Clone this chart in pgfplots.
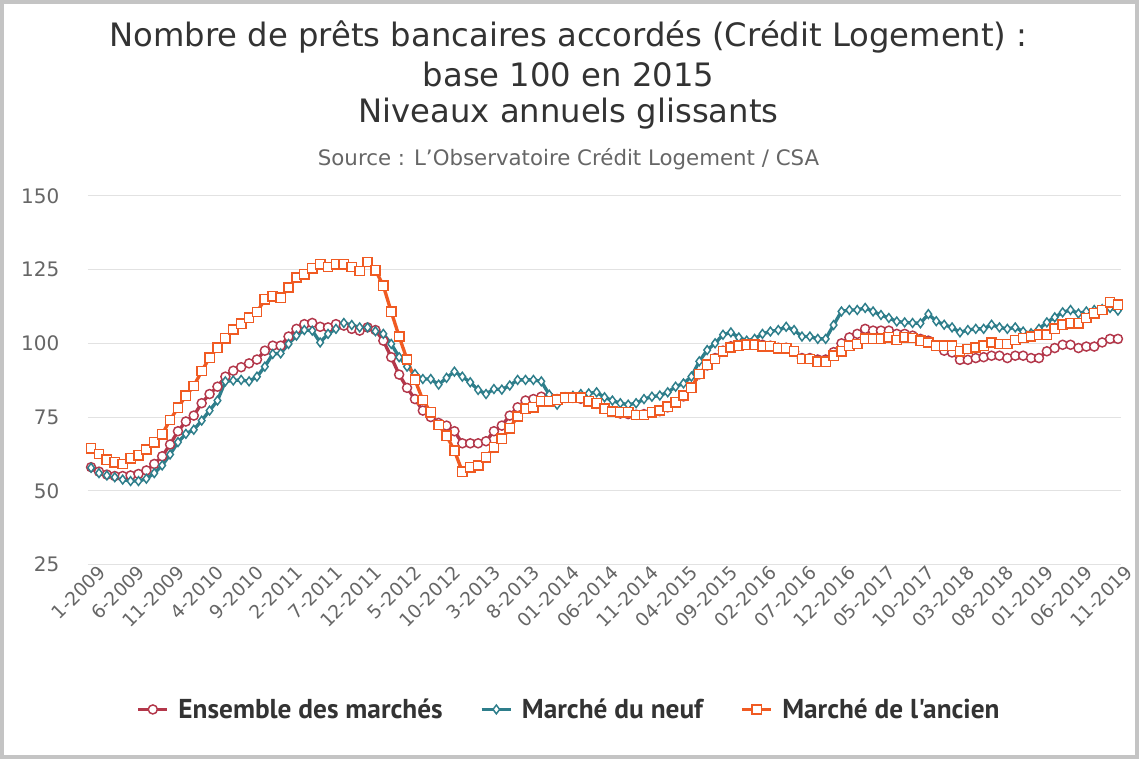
\documentclass[border=0pt]{standalone}
\usepackage{fontspec}
\setmainfont{DejaVu Sans}
\newfontfamily\legfont{PT Sans}
\usepackage{pgfplots}
\pgfplotsset{compat=1.18}
\usepackage{pgfplotstable}

\definecolor{ens}{HTML}{B3374A}
\definecolor{neuf}{HTML}{2E7E8B}
\definecolor{anc}{HTML}{F05A22}
\definecolor{titlec}{HTML}{333333}
\definecolor{subc}{HTML}{666666}
\definecolor{gridc}{HTML}{E2E2E2}
\definecolor{framec}{HTML}{C4C4C4}

% mois 0 = 1-2009 ... 130 = 11-2019
\pgfplotstableread{
m ens neuf anc
0 58 57.8 64.4
1 56.5 56 62.5
2 55.5 55.2 60.5
3 55 54.6 59.7
4 55 53.8 59.1
5 55.2 53.3 61
6 55.7 53.3 62
7 56.9 54.1 64
8 59.1 56 66.5
9 61.7 58.6 69.2
10 65.7 62.3 74
11 70.2 66.5 78.2
12 73.5 69.3 82.2
13 75.5 70.7 85.5
14 79.7 73.8 90.6
15 82.8 77.2 95.1
16 85.3 80.6 98.5
17 88.7 87.1 101.7
18 90.7 87.4 104.7
19 91.9 87.6 106.6
20 93.2 87.1 108.7
21 94.5 88.7 110.6
22 97.5 92.1 114.9
23 99.2 96.4 116
24 99.2 96.6 115.5
25 102.3 99.8 118.9
26 104.9 102.6 122.3
27 106.5 104.5 123.4
28 106.9 104.3 125.4
29 105.6 100.3 126.8
30 105.4 103.2 125.9
31 106.5 104.9 126.8
32 106 106.9 126.8
33 104.9 106.2 125.9
34 104.3 105.4 124.5
35 105.4 105.4 127.6
36 104.5 104.1 124.8
37 100.9 103.2 119.5
38 95.3 99.8 110.7
39 89.4 95.3 102.3
40 84.9 92.1 94.5
41 81.1 89.6 87.6
42 77.2 87.9 80.8
43 75 87.9 76.6
44 73 86 72.3
45 72.1 88.3 68.7
46 70.2 90.4 63.6
47 66.1 88.7 56.5
48 66.1 86.8 58
49 66.1 84.2 58.6
50 66.8 82.8 61.4
51 70.2 84.5 64.8
52 72.1 84.3 67.6
53 75.5 85.7 71.2
54 78.3 87.6 75.2
55 80.6 87.6 77.8
56 81.1 87.6 78.3
57 81.9 87.1 80.4
58 81.7 82.6 80.4
59 81.1 79.2 80.9
60 81.5 81.7 81.5
61 81.5 82.2 81.5
62 81.2 82.8 81.5
63 80.5 83 80.4
64 79.5 83.4 79.7
65 78 81.7 77.8
66 77 80.6 76.9
67 76.2 79.7 76.6
68 76 79.2 76.6
69 75.8 79.7 75.7
70 76 81.1 75.7
71 76.5 81.9 76.6
72 77 82.3 77.2
73 78.3 83.4 78.5
74 80 85.3 80
75 82 86.4 82.3
76 85 88.7 84.9
77 89.5 93.9 89.6
78 92.5 97.7 92.7
79 95 100 94.7
80 97.5 102.9 97.3
81 99 103.7 98.6
82 99.8 102 99.2
83 100 100.9 99.5
84 100 101.5 99.5
85 99.5 103.2 99
86 99.2 104 99
87 98.5 104.5 98.3
88 98.5 105.6 98.3
89 97.2 104.5 97.3
90 95 102.3 94.7
91 95 102.3 94.7
92 94.5 101.5 93.8
93 94.5 101.5 93.8
94 97 106.2 95.8
95 100 110.8 97.3
96 102 111.3 99.2
97 103.2 111.3 99.8
98 104.9 112 101.5
99 104.3 110.8 101.5
100 104.3 109.6 101.5
101 104.3 108.6 102
102 103.2 107.4 101.1
103 103.2 107.1 102
104 102.6 106.9 101.8
105 101.5 106.8 100.9
106 100.9 109.9 100.3
107 99.2 107.5 99.2
108 97.5 106.3 99.2
109 96.9 105.4 99.2
110 94.4 103.7 97.3
111 94.4 104.5 98.1
112 95 104.9 98.6
113 95.3 104.9 99.2
114 95.8 106.3 100.3
115 95.8 105.4 99.8
116 95 104.9 99.8
117 95.8 105.4 101.1
118 95.8 104 101.8
119 95 103.4 102.3
120 95 104.9 102.9
121 97.3 107.1 102.9
122 98.4 108.8 104.9
123 99.5 110.5 106.3
124 99.5 111.3 106.8
125 98.4 110.1 106.8
126 98.9 110.8 108.6
127 98.9 111.3 110.2
128 100.3 111.6 111.3
129 101.5 112 113.9
130 101.5 111.1 113.1
}\credit

\begin{document}
\begin{tikzpicture}
\begin{scope}[x=0.75pt,y=0.75pt]
\fill[white] (0,0) rectangle (1140,760);
\useasboundingbox (0,0) rectangle (1140,760);
\draw[line width=3pt, framec] (2,2) rectangle (1138,758);
\node[font=\fontsize{24.2}{28}\selectfont, text=titlec] at (569,723) {Nombre de prêts bancaires accordés (Crédit Logement) :};
\node[font=\fontsize{24.2}{28}\selectfont, text=titlec] at (569,685) {base 100 en 2015};
\node[font=\fontsize{24.2}{28}\selectfont, text=titlec] at (569,646) {Niveaux annuels glissants};
\node[font=\fontsize{16}{18}\selectfont, text=subc] at (569,601) {Source : L'Observatoire Crédit Logement / CSA};
\end{scope}

\begin{axis}[
  at={(66pt,146.25pt)}, anchor=south west,
  scale only axis, width=775.5pt, height=276.75pt,
  xmin=-0.4, xmax=130.4, ymin=25, ymax=150,
  clip=false,
  axis line style={draw=none},
  tick style={draw=none},
  ymajorgrids, major grid style={gridc, line width=0.8pt},
  ytick={25,50,75,100,125,150},
  xtick={0,5,...,130},
  xticklabels={1-2009,6-2009,11-2009,4-2010,9-2010,2-2011,7-2011,12-2011,5-2012,10-2012,3-2013,8-2013,01-2014,06-2014,11-2014,04-2015,09-2015,02-2016,07-2016,12-2016,05-2017,10-2017,03-2018,08-2018,01-2019,06-2019,11-2019},
  /pgf/number format/assume math mode=true,
  yticklabel style={font=\fontsize{15}{15}\selectfont, text=subc, xshift=-18pt},
  xticklabel style={font=\fontsize{14}{14}\selectfont, text=subc, rotate=45, anchor=east, xshift=7pt, yshift=-8pt},
  legend columns=3,
  legend style={at={(0.466,-0.393)}, anchor=center, draw=none, fill=none,
    font=\legfont\bfseries\fontsize{20.5}{21}\selectfont, text=titlec,
    /tikz/every even column/.append style={column sep=26pt},
    /tikz/every odd column/.append style={column sep=5pt}},
  legend image code/.code={\draw[mark repeat=2, mark phase=2] plot coordinates {(0pt,0pt) (11pt,0pt) (22pt,0pt)};},
]
\addplot[ens, line width=2.5pt, mark=*, mark size=3.4pt,
  mark options={fill=white, draw=ens, line width=1.1pt}] table[x=m, y=ens] {\credit};
\addplot[neuf, line width=2.5pt, mark=diamond*, mark size=3.3pt,
  mark options={fill=white, draw=neuf, line width=1.1pt}] table[x=m, y=neuf] {\credit};
\addplot[anc, line width=2.5pt, mark=square*, mark size=3.5pt,
  mark options={fill=white, draw=anc, line width=1.1pt}] table[x=m, y=anc] {\credit};
\legend{Ensemble des marchés, Marché du neuf, Marché de l'ancien}
\end{axis}
\end{tikzpicture}
\end{document}
